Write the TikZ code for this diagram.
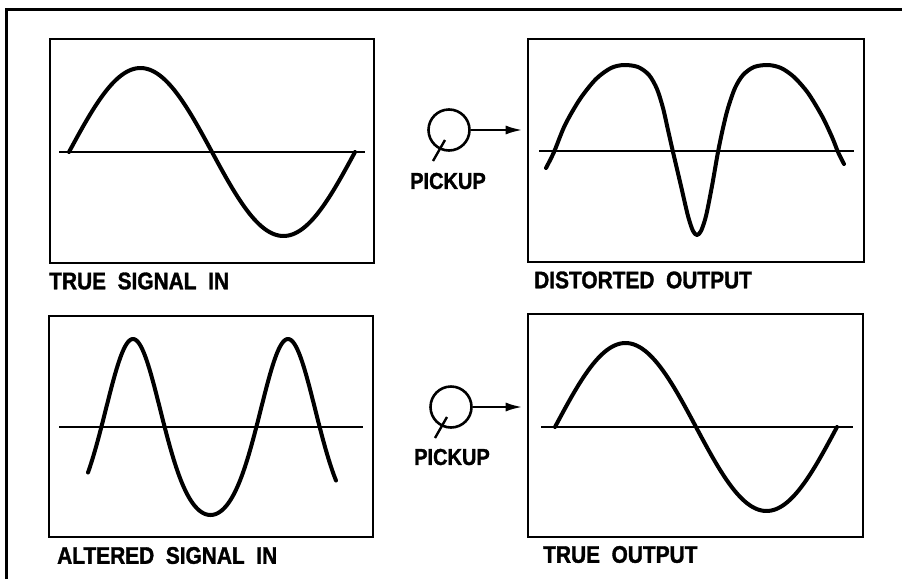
\documentclass[tikz,border=0pt]{standalone}
\usepackage{fontspec}
\newfontfamily\labfont[FakeStretch=0.87,WordSpace=2.0,FakeBold=1.4]{Liberation Sans}
\usetikzlibrary{arrows.meta,calc}
\begin{document}
\begin{tikzpicture}[x=1pt,y=-1pt,
  panel/.style={draw, line width=2.6pt, inner sep=0pt},
  axisline/.style={line width=2.4pt},
  wave/.style={line width=4pt, line cap=round, line join=round},
  lab/.style={font=\labfont\bfseries\fontsize{24}{24}\selectfont, inner sep=0pt, anchor=west},
  plab/.style={font=\labfont\bfseries\fontsize{23}{23}\selectfont, inner sep=0pt},
  pick/.style={draw, circle, line width=2.6pt, minimum size=41pt, inner sep=0pt},
  feed/.style={line width=2.6pt, -{Latex[length=17pt,width=9pt]}, shorten >=4pt},
  frame/.style={line width=3pt}]
\useasboundingbox (0,0) rectangle (902,579);
% outer frame
\coordinate (fa) at (6,579);
\coordinate (fb) at (6,9);
\coordinate (fc) at (902,9);
\draw[frame] (fa) -- (fb) -- (fc);
% panels
\node[panel, minimum width=324pt, minimum height=224pt] (b1) at (212,151) {};
\node[panel, minimum width=336pt, minimum height=223pt] (b2) at (696,150.5) {};
\node[panel, minimum width=324pt, minimum height=221pt] (b3) at (211,426.5) {};
\node[panel, minimum width=335pt, minimum height=223pt] (b4) at (695.5,425.5) {};
% axes
\draw[axisline] (59,152) -- (365,152);
\draw[axisline] (539,151) -- (854,151);
\draw[axisline] (59,427) -- (363,427);
\draw[axisline] (541,427) -- (853,427);
% waves
\draw[wave] plot[domain=69:355, samples=120, smooth] (\x, {152-84*sin((\x-69)/143*180)});
\draw[wave] plot[domain=555:837, samples=120, smooth] (\x, {427-84*sin((\x-555)/141*180)});
\draw[wave] plot[variable=\t, domain=-104.5:471.5, samples=240, smooth]
  ({133+\t/360*155}, {427-88*cos(\t+17.19*sin(\t))});
\draw[wave] plot[smooth, tension=0.5] coordinates {
  (546,168) (554,152) (565,125) (580,99) (596,79) (611,68) (624,65) (638,67)
  (649,75) (657,89) (663,108) (668,130) (673,152) (681,186) (688,216) (693,231)
  (697,235) (701,231) (706,216) (712,186) (718,152) (723,128) (728,108) (735,88)
  (743,75) (754,67) (768,65) (781,68) (794,77) (808,93) (822,116) (832,137)
  (838,152) (844,164)};
% pickups
\node[pick] (p1) at (449,130) {};
\draw[line width=2.4pt] ([shift={(-4,10)}]p1.center) -- ++(-12,21);
\draw[feed] (p1.east) -- (b2.west |- p1.east);
\node[plab] (t1) at (448,181) {PICKUP};
\node[pick] (p2) at (451,407) {};
\draw[line width=2.4pt] ([shift={(-4,10)}]p2.center) -- ++(-12,21);
\draw[feed] (p2.east) -- (b4.west |- p2.east);
\node[plab] (t2) at (452,457) {PICKUP};
% labels
\node[lab] (l1) at (49,281) {TRUE SIGNAL IN};
\node[lab] (l2) at (534,280) {DISTORTED OUTPUT};
\node[lab] (l3) at (57,555.5) {ALTERED SIGNAL IN};
\node[lab] (l4) at (543,554.5) {TRUE OUTPUT};
\end{tikzpicture}
\end{document}
